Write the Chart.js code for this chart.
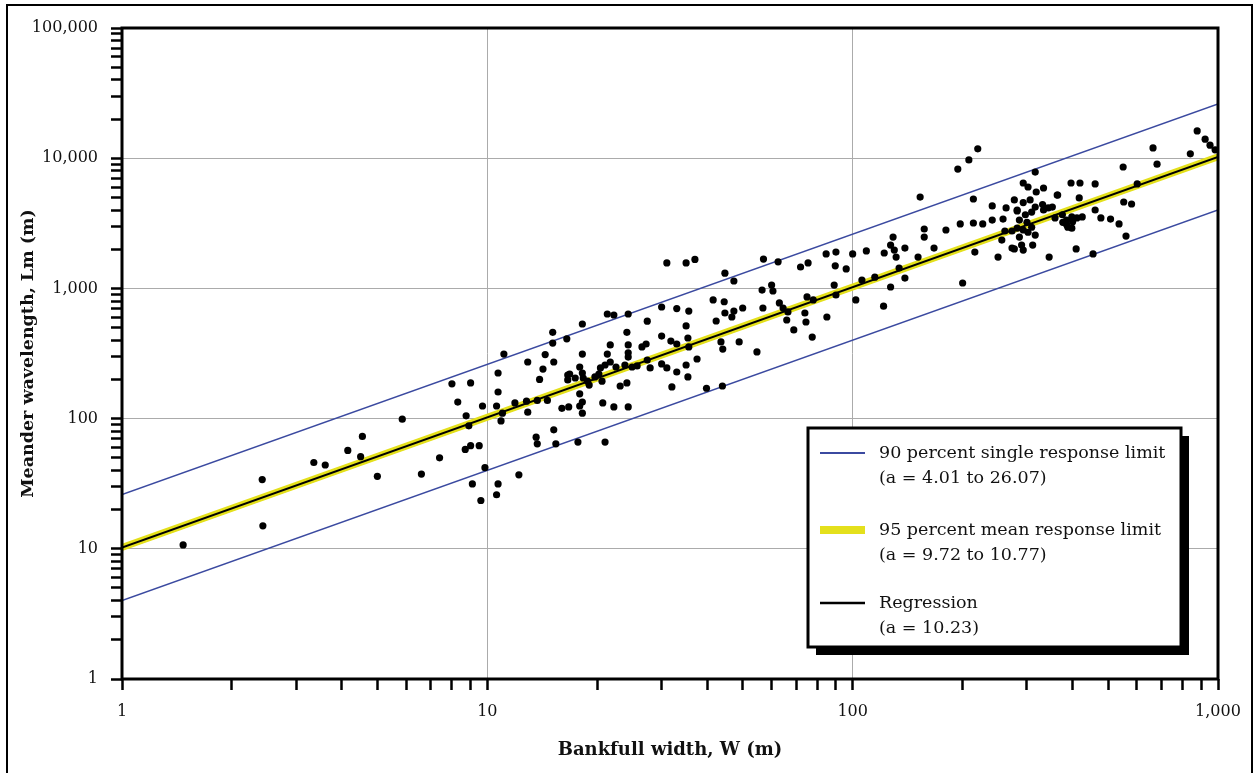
<!DOCTYPE html>
<html>
<head>
<meta charset="utf-8">
<script src="https://cdn.jsdelivr.net/npm/chart.js@4.4.0/dist/chart.umd.min.js"></script>
<style>
  html, body { margin: 0; padding: 0; background: #fff; }
  canvas { display: block; }
</style>
</head>
<body>
<canvas id="meander" width="1257" height="773"></canvas>
<script>
// Bankfull width W (m) of each measured reach
var bankfullWidth = [
  1.47, 2.42, 2.43, 3.35, 3.6, 4.15, 4.55, 4.5, 5.0, 5.85,
  6.6, 7.4, 8.0, 9.0, 8.3, 9.7, 8.75, 8.9, 8.7, 9.0,
  9.5, 9.85, 9.1, 9.6, 10.7, 10.6, 11.0, 10.9, 11.9, 10.7,
  10.6, 12.2, 15.1, 15.1, 11.1, 14.4, 12.9, 15.2, 14.2, 10.7,
  16.6, 13.9, 12.8, 13.7, 14.6, 12.9, 16.0, 16.7, 13.6, 13.7,
  15.2, 15.4, 31, 35, 37, 30, 33, 35.6, 21.3, 22.2,
  24.3, 18.2, 27.4, 16.5, 24.1, 30, 35, 21.7, 24.3, 24.3,
  26.5, 27.2, 31.8, 33, 18.2, 21.3, 24.3, 21.7, 21, 20.4,
  22.5, 23.8, 24.9, 25.7, 27.4, 27.9, 30, 31, 17.9, 18.2,
  16.8, 17.4, 16.6, 18.3, 18.8, 19.0, 19.7, 20.2, 20.6, 23.1,
  24.1, 17.9, 18.2, 17.9, 18.2, 20.7, 22.2, 24.3, 32, 33,
  35, 35.4, 17.7, 21, 44.7, 47.3, 57, 62.5, 72, 75.5,
  84.6, 90, 89.6, 56.5, 60, 60.5, 89, 90, 41.5, 44.5,
  44.7, 46.7, 47.3, 50, 42.3, 56.8, 63, 64.5, 66.5, 66,
  69, 74, 74.5, 75, 78, 85, 77.5, 35.4, 35.6, 37.5,
  43.6, 44.1, 48.9, 54.7, 39.8, 44, 220, 208, 194, 153,
  214, 241, 263, 277, 282, 180, 197, 214, 227, 241,
  258, 157, 157, 261, 273, 256, 277, 250, 129, 127,
  130, 131.5, 139, 134, 139, 151, 167, 216, 200, 122,
  109, 100, 96, 106, 115, 127, 121.5, 102, 877, 922,
  951, 982, 840, 664, 681, 550, 601, 552, 580, 536,
  560, 461, 419, 396, 417, 316, 363, 461, 478, 508,
  409, 455, 345, 311, 316, 273, 293, 293, 302, 318,
  333, 364, 293, 306, 316, 331, 343, 352, 282, 297,
  309, 333, 358, 375, 385, 398, 411, 425, 286, 300,
  309, 282, 286, 376, 388, 400, 293, 302, 290, 385,
  398
];

// Meander wavelength Lm (m), same order as bankfullWidth
var meanderWavelength = [
  10.7, 34, 15, 46, 44, 57, 73, 51, 36, 99,
  37.5, 50, 185, 188, 134, 125, 105, 88, 58, 62,
  62, 42, 31.5, 23.5, 160, 125, 110, 96, 132, 31.5,
  26, 37, 460, 380, 313, 310, 272, 272, 240, 224,
  216, 200, 136, 138, 138, 112, 120, 123, 72, 64,
  82, 64, 1570, 1570, 1670, 720, 700, 670, 636, 625,
  636, 533, 560, 410, 460, 430, 515, 368, 368, 320,
  355, 374, 394, 374, 313, 313, 297, 272, 258, 245,
  249, 258, 249, 254, 282, 245, 263, 245, 249, 224,
  220, 205, 198, 205, 194, 181, 209, 220, 194, 178,
  188, 155, 134, 125, 110, 132, 123, 123, 175, 228,
  258, 209, 66, 66, 1310, 1140, 1680, 1600, 1460, 1570,
  1840, 1900, 1490, 970, 1060, 955, 1060, 890, 815, 790,
  647, 603, 670, 707, 562, 707, 773, 707, 660, 572,
  480, 647, 552, 860, 815, 603, 423, 416, 355, 287,
  388, 342, 388, 325, 171, 178, 11800, 9700, 8250, 5030,
  4860, 4300, 4150, 4780, 3930, 2810, 3125, 3180, 3125, 3350,
  3410, 2860, 2480, 2760, 2760, 2350, 2010, 1740, 2480, 2150,
  1970, 1740, 2040, 1435, 1200, 1740, 2040, 1900, 1100, 1870,
  1940, 1840, 1410, 1160, 1220, 1025, 730, 815, 16200, 14000,
  12600, 11600, 10800, 12000, 9000, 8560, 6340, 4610, 4450, 3125,
  2525, 6340, 6450, 6450, 4950, 7830, 5210, 4000, 3475, 3410,
  2010, 1840, 1740, 2150, 2570, 2040, 1970, 6450, 6010, 5500,
  5905, 5215, 4565, 4780, 4210, 4400, 4150, 4210, 4000, 3680,
  3860, 4000, 3475, 3680, 3350, 3540, 3475, 3540, 3350, 3220,
  2950, 2900, 2480, 3220, 2950, 3250, 2810, 2700, 2155, 3100,
  2900
];

// Limit lines, end points at W = 1 and W = 1000
var lineWidths = [1, 1000];
var singleUpper = [26.07, 26070];
var singleLower = [4.01, 4010];
var meanUpper = [10.77, 10770];
var meanLower = [9.72, 9720];
var regression = [10.23, 10230];

// Labelled decades on each axis
var xDecades = [1, 10, 100, 1000];
var yDecades = [1, 10, 100, 1000, 10000, 100000];

// Legend text
var legendTitles = [
  "90 percent single response limit",
  "95 percent mean response limit",
  "Regression"
];
var legendNotes = [
  "(a = 4.01 to 26.07)",
  "(a = 9.72 to 10.77)",
  "(a = 10.23)"
];

function toPoints(xs, ys) {
  return xs.map(function (x, i) { return { x: x, y: ys[i] }; });
}

// 1,2,...,9 in every decade, for the minor tick marks
function logTicks(decades) {
  var ticks = [];
  for (var i = 0; i < decades.length - 1; i++) {
    for (var m = 1; m < 10; m++) ticks.push({ value: decades[i] * m });
  }
  ticks.push({ value: decades[decades.length - 1] });
  return ticks;
}

function isDecade(v, decades) {
  return decades.indexOf(v) !== -1;
}

// frame, outer border and the boxed legend with its drop shadow
var framePlugin = {
  id: "frame",
  afterDraw: function (chart) {
    var c = chart.ctx;
    var a = chart.chartArea;
    c.save();
    c.strokeStyle = "#000";
    c.lineWidth = 3;
    c.strokeRect(a.left, a.top, a.right - a.left, a.bottom - a.top);

    c.lineWidth = 2;
    c.strokeRect(7, 5, 1245, 820);

    // legend box
    var bx = 808, by = 428, bw = 373, bh = 219;
    c.fillStyle = "#000";
    c.fillRect(bx + 8, by + 8, bw, bh);
    c.fillStyle = "#fff";
    c.fillRect(bx, by, bw, bh);
    c.lineWidth = 3;
    c.strokeRect(bx, by, bw, bh);

    var rows = [453, 530, 603];
    var samples = [
      { color: "#3b4aa0", width: 2 },
      { color: "#e4e01c", width: 8 },
      { color: "#000", width: 2.5 }
    ];
    c.font = "17.5px 'DejaVu Serif'";
    c.textBaseline = "middle";
    c.textAlign = "left";
    for (var i = 0; i < rows.length; i++) {
      c.strokeStyle = samples[i].color;
      c.lineWidth = samples[i].width;
      c.beginPath();
      c.moveTo(820, rows[i]);
      c.lineTo(865, rows[i]);
      c.stroke();
      c.fillStyle = "#111";
      c.fillText(legendTitles[i], 879, rows[i]);
      c.fillText(legendNotes[i], 879, rows[i] + 25);
    }
    c.restore();
  }
};

Chart.defaults.font.family = "'DejaVu Serif', serif";
Chart.defaults.color = "#111";

var ctx = document.getElementById("meander").getContext("2d");
var chart = new Chart(ctx, {
  type: "scatter",

  data: {
    datasets: [
      {
        label: "Measured reaches",
        data: toPoints(bankfullWidth, meanderWavelength),
        backgroundColor: "#000",
        borderWidth: 0,
        pointRadius: 3.6
      },
      {
        label: "Regression",
        data: toPoints(lineWidths, regression),
        showLine: true,
        borderColor: "#000",
        borderWidth: 2,
        pointRadius: 0
      },
      {
        label: "95 lower",
        data: toPoints(lineWidths, meanLower),
        showLine: true,
        borderColor: "#e4e01c",
        borderWidth: 1.5,
        pointRadius: 0
      },
      {
        label: "95 upper",
        data: toPoints(lineWidths, meanUpper),
        showLine: true,
        borderColor: "#e4e01c",
        borderWidth: 1.5,
        backgroundColor: "#e4e01c",
        fill: "-1",
        pointRadius: 0
      },
      {
        label: "90 upper",
        data: toPoints(lineWidths, singleUpper),
        showLine: true,
        borderColor: "#3b4aa0",
        borderWidth: 1.5,
        pointRadius: 0
      },
      {
        label: "90 lower",
        data: toPoints(lineWidths, singleLower),
        showLine: true,
        borderColor: "#3b4aa0",
        borderWidth: 1.5,
        pointRadius: 0
      }
    ]
  },

  options: {
    responsive: false,
    animation: false,
    layout: { padding: { top: 28, right: 39, left: 0, bottom: 0 } },
    plugins: {
      legend: { display: false },
      tooltip: { enabled: false }
    },
    scales: {
      x: {
        type: "logarithmic",
        position: "bottom",
        min: 1,
        max: 1000,
        afterBuildTicks: function (scale) { scale.ticks = logTicks(xDecades); },
        afterFit: function (scale) { scale.height = 94; },
        ticks: {
          autoSkip: false,
          maxRotation: 0,
          padding: 12,
          font: { size: 16 },
          callback: function (v) {
            return isDecade(v, xDecades) ? v.toLocaleString("en-US") : "";
          }
        },
        grid: {
          color: function (c) {
            return c.tick && isDecade(c.tick.value, xDecades) ? "#ababab" : "rgba(0,0,0,0)";
          },
          lineWidth: 1,
          tickColor: "#000",
          tickWidth: 2.5,
          tickLength: 11
        },
        border: { display: false },
        title: {
          display: true,
          text: "Bankfull width, W (m)",
          font: { size: 18, weight: "bold" },
          padding: { top: 0, bottom: 12 }
        }
      },
      y: {
        type: "logarithmic",
        min: 1,
        max: 100000,
        afterBuildTicks: function (scale) { scale.ticks = logTicks(yDecades); },
        afterFit: function (scale) { scale.width = 122; },
        ticks: {
          autoSkip: false,
          padding: 13,
          font: { size: 16 },
          callback: function (v) {
            return isDecade(v, yDecades) ? v.toLocaleString("en-US") : "";
          }
        },
        grid: {
          color: function (c) {
            return c.tick && isDecade(c.tick.value, yDecades) ? "#ababab" : "rgba(0,0,0,0)";
          },
          lineWidth: 1,
          tickColor: "#000",
          tickWidth: 2.5,
          tickLength: 11
        },
        border: { display: false },
        title: {
          display: true,
          text: "Meander wavelength, Lm (m)",
          font: { size: 17.5, weight: "bold" },
          padding: { top: 17.5, bottom: 0 }
        }
      }
    }
  },

  plugins: [framePlugin]
});
</script>
</body>
</html>
